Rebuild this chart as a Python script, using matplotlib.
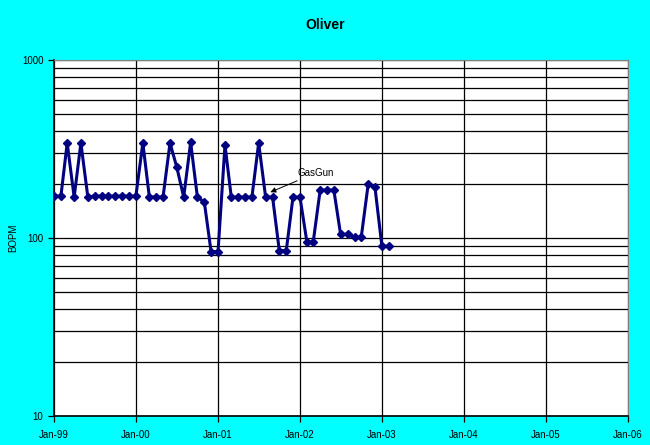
import matplotlib
matplotlib.use("Agg")
import matplotlib.pyplot as plt
import matplotlib.dates as mdates
import pandas as pd
from matplotlib.ticker import LogLocator, NullFormatter, FixedFormatter, FixedLocator

plt.rcParams['font.family'] = ['Liberation Sans', 'DejaVu Sans']

# monthly BOPM, Jan-99 .. Feb-03
start_month = "1999-01-01"
bopm = [172, 172, 342, 170, 342, 170, 172, 172, 172, 172, 172, 172,
        172, 342, 170, 170, 170, 342, 251, 170, 345, 170, 159, 84,
        84, 333, 170, 170, 170, 170, 342, 170, 170, 85, 85, 170,
        170, 95, 95, 186, 186, 186, 105, 105, 101, 101, 201, 194,
        90, 90]
months = pd.date_range(start_month, periods=len(bopm), freq="MS")

year_ticks = pd.date_range("1999-01-01", "2006-01-01", freq="YS")
year_labels = [d.strftime("Jan-%y") for d in year_ticks]

note_text = "GasGun"
note_tip = (pd.Timestamp("2001-08-22"), 181)
note_pos = (pd.Timestamp("2001-12-20"), 232)

fig = plt.figure(figsize=(6.5, 4.45), dpi=100, facecolor="#00FFFF")
ax = fig.add_axes([0.083, 0.065, 0.883, 0.8])
ax.set_facecolor("white")

ax.plot(months, bopm, color="#000080", lw=2.2, marker="D", ms=4,
        markerfacecolor="#000080", markeredgecolor="#000080", zorder=3)

ax.set_yscale("log")
ax.set_ylim(10, 1000)
ax.set_xlim(year_ticks[0], year_ticks[-1])

ax.xaxis.set_major_locator(FixedLocator(mdates.date2num(year_ticks)))
ax.xaxis.set_major_formatter(FixedFormatter(year_labels))
ax.yaxis.set_minor_locator(LogLocator(base=10, subs=range(2, 10)))
ax.yaxis.set_minor_formatter(NullFormatter())
ax.yaxis.set_major_locator(FixedLocator([10, 100, 1000]))
ax.yaxis.set_major_formatter(FixedFormatter(["10", "100", "1000"]))

ax.grid(True, which="major", axis="both", color="black", lw=0.9)
ax.grid(True, which="minor", axis="y", color="black", lw=0.9)
ax.set_axisbelow(True)

ax.tick_params(axis="both", which="major", labelsize=7, length=4, width=0.9,
               direction="out", colors="black")
ax.tick_params(axis="x", pad=6)
ax.tick_params(axis="y", which="minor", length=0)

for s in ["top", "right"]:
    ax.spines[s].set_color("#808080")
for s in ["left", "bottom"]:
    ax.spines[s].set_color("black")
    ax.spines[s].set_linewidth(1.2)

ax.set_ylabel("BOPM", fontsize=7, labelpad=3)
fig.suptitle("Oliver", fontsize=10, fontweight="bold", y=0.96)

ax.annotate(note_text, xy=note_tip, xytext=note_pos, fontsize=7, va="center",
            ha="left",
            arrowprops=dict(arrowstyle="-|>", color="black", lw=0.7,
                            mutation_scale=8, shrinkA=0, shrinkB=0))

fig.savefig("out.png", dpi=100, facecolor=fig.get_facecolor())
